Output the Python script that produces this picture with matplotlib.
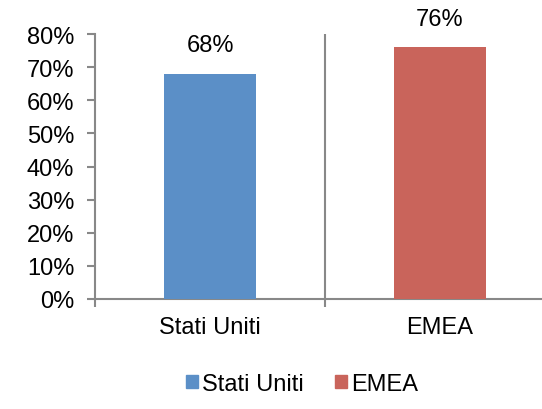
import matplotlib
matplotlib.use("Agg")
import matplotlib.pyplot as plt
from matplotlib.patches import Patch

plt.rcParams['font.family'] = ['Liberation Sans', 'DejaVu Sans']

categories = ["Stati Uniti", "EMEA"]
values = [68, 76]
colors = ["#5B8FC7", "#C9645B"]
yticks = [0, 10, 20, 30, 40, 50, 60, 70, 80]

FS = 17
fig = plt.figure(figsize=(5.42, 4.10), dpi=100)
ax = fig.add_axes([95/542, 110/410, 460/542, 265/410])

x = range(len(categories))
ax.bar(x, values, width=0.4, color=colors, zorder=3)
for xi, v in zip(x, values):
    ax.text(xi, v + 5.3, f"{v}%", ha="center", va="bottom", fontsize=FS)

ax.set_xlim(-0.5, len(categories) - 0.5)
ax.set_ylim(0, 80)
ax.set_yticks(yticks)
ax.set_yticklabels([f"{t}%" for t in yticks], fontsize=FS)

# category labels centred, ticks and separators at category boundaries
ax.set_xticks(list(x))
ax.set_xticklabels(categories, fontsize=FS)
ax.tick_params(axis="x", length=0, pad=12)
ax.set_xticks([-0.5, 0.5, 1.5], minor=True)
ax.tick_params(axis="x", which="minor", length=6, width=1.5, color="#888888", direction="out")
ax.tick_params(axis="y", length=6, width=1.5, color="#888888", direction="out", pad=9)
ax.axvline(0.5, color="#888888", lw=1.5, zorder=1)

for s in ["top", "right"]:
    ax.spines[s].set_visible(False)
for s in ["left", "bottom"]:
    ax.spines[s].set_color("#888888")
    ax.spines[s].set_linewidth(1.5)

handles = [Patch(color=c, label=l) for c, l in zip(colors, categories)]
fig.legend(handles=handles, loc="center", bbox_to_anchor=(302/542, 1 - 385/410),
           ncol=2, frameon=False, fontsize=FS, handlelength=0.5, handleheight=0.5,
           handletextpad=0.2, columnspacing=1.3)

fig.savefig("out.png", dpi=100)
